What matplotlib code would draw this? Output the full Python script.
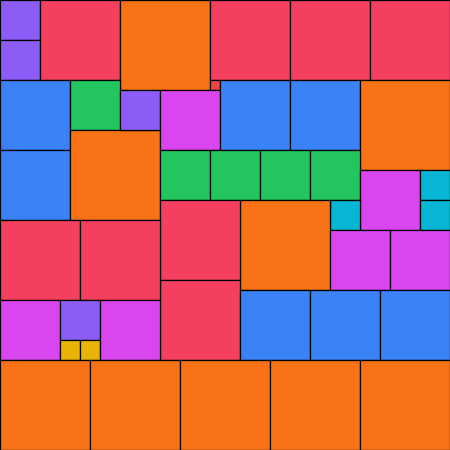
import matplotlib
matplotlib.use("Agg")
import matplotlib.pyplot as plt
from matplotlib.patches import Rectangle

# Treemap tiles on a 45 x 45 grid (units of the layout), y measured from top
group = ["violet", "violet", "rose", "orange", "rose", "red", "rose", "rose",
         "blue", "blue", "green", "orange", "violet", "fuchsia", "blue", "blue", "orange",
         "green", "green", "green", "green", "fuchsia", "cyan", "cyan", "cyan", "orange",
         "rose", "rose", "rose", "rose", "fuchsia", "violet", "amber", "amber", "fuchsia",
         "fuchsia", "fuchsia", "blue", "blue", "blue",
         "orange", "orange", "orange", "orange", "orange"]
tile_x = [0, 0, 4, 12, 21, 21, 29, 37,
          0, 0, 7, 7, 12, 16, 22, 29, 36,
          16, 21, 26, 31, 36, 42, 42, 33, 24,
          16, 16, 0, 8, 0, 6, 6, 8, 10,
          33, 39, 24, 31, 38,
          0, 9, 18, 27, 36]
tile_y = [0, 4, 0, 0, 0, 8, 0, 0,
          8, 15, 8, 13, 9, 9, 8, 8, 8,
          15, 15, 15, 15, 17, 17, 20, 20, 20,
          20, 28, 22, 22, 30, 30, 34, 34, 30,
          23, 23, 29, 29, 29,
          36, 36, 36, 36, 36]
tile_w = [4, 4, 8, 9, 8, 1, 8, 8,
          7, 7, 5, 9, 4, 6, 7, 7, 9,
          5, 5, 5, 5, 6, 3, 3, 3, 9,
          8, 8, 8, 8, 6, 4, 2, 2, 6,
          6, 6, 7, 7, 7,
          9, 9, 9, 9, 9]
tile_h = [4, 4, 8, 9, 8, 1, 8, 8,
          7, 7, 5, 9, 4, 6, 7, 7, 9,
          5, 5, 5, 5, 6, 3, 3, 3, 9,
          8, 8, 8, 8, 6, 4, 2, 2, 6,
          6, 6, 7, 7, 7,
          9, 9, 9, 9, 9]

palette = {"violet": "#8B5CF6", "rose": "#F43F5E", "orange": "#F97316",
           "red": "#EF4444", "blue": "#3B82F6", "green": "#22C55E",
           "fuchsia": "#D946EF", "cyan": "#06B6D4", "amber": "#EAB308"}

fig = plt.figure(figsize=(4.5, 4.5), dpi=100)
ax = fig.add_axes([0, 0, 1, 1])
for g, x, y, w, h in zip(group, tile_x, tile_y, tile_w, tile_h):
    ax.add_patch(Rectangle((x, y), w, h, facecolor=palette[g],
                           edgecolor="black", linewidth=0.9))
ax.set_xlim(0, 45)
ax.set_ylim(45, 0)
ax.axis("off")
fig.savefig("out.png", dpi=100)
